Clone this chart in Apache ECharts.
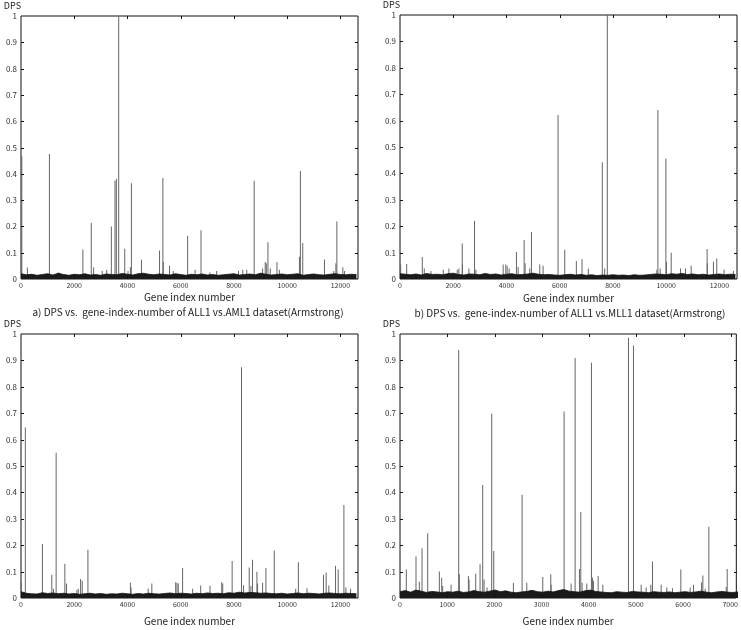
<!DOCTYPE html>
<html>
<head>
<meta charset="utf-8">
<script src="https://cdn.jsdelivr.net/npm/echarts@6/dist/echarts.min.js"></script>
<style>
html, body { margin: 0; background: #fff; }
#main { width: 741px; height: 630px; }
</style>
</head>
<body>
<div id="main"></div>
<script>
// peaks: [gene index, DPS]
var peaksA = [
  [30,0.468],[240,0.044],[1068,0.475],[1420,0.025],[2325,0.112],[2640,0.213],[2728,0.045],[3050,0.03],
  [3220,0.035],[3394,0.2],[3532,0.374],[3582,0.381],[3670,1.0],[3897,0.115],[4020,0.03],[4110,0.045],
  [4148,0.364],[4525,0.073],[5204,0.108],[5330,0.384],[5345,0.065],[5580,0.05],[5720,0.03],[6260,0.164],
  [6540,0.035],[6763,0.185],[7100,0.025],[7350,0.03],[8170,0.03],[8330,0.035],[8480,0.035],[8760,0.374],
  [9075,0.04],[9175,0.065],[9215,0.06],[9277,0.14],[9365,0.04],[9615,0.065],[9705,0.035],[10460,0.085],
  [10496,0.411],[10584,0.137],[11400,0.074],[11750,0.03],[11830,0.06],[11866,0.219],[12090,0.045],[12155,0.03]
];
var peaksB = [
  [25,0.055],[250,0.057],[838,0.083],[912,0.04],[1162,0.03],[1625,0.035],[1838,0.04],[2150,0.035],
  [2212,0.04],[2338,0.134],[2345,0.055],[2588,0.04],[2800,0.221],[2850,0.035],[3875,0.055],[3975,0.055],
  [4025,0.05],[4100,0.04],[4375,0.102],[4438,0.045],[4663,0.148],[4700,0.06],[4875,0.04],[4938,0.178],
  [5250,0.055],[5375,0.05],[5938,0.621],[6188,0.111],[6625,0.068],[6838,0.075],[7075,0.04],[7600,0.442],
  [7688,0.04],[7788,1.0],[9650,0.035],[9688,0.64],[9775,0.04],[9988,0.456],[10010,0.065],[10188,0.099],
  [10538,0.04],[10725,0.04],[10938,0.05],[11538,0.114],[11545,0.06],[11775,0.065],[11900,0.078],[12175,0.035],
  [12525,0.03]
];
var peaksC = [
  [10,0.058],[163,0.646],[805,0.205],[1157,0.088],[1220,0.035],[1320,0.55],[1647,0.13],[1710,0.055],
  [2100,0.03],[2150,0.035],[2238,0.072],[2300,0.065],[2514,0.183],[4110,0.058],[4135,0.04],[4776,0.036],
  [4915,0.055],[5810,0.06],[5860,0.058],[5908,0.055],[6071,0.114],[6448,0.035],[6750,0.047],[7100,0.046],
  [7540,0.06],[7578,0.055],[7932,0.14],[8284,0.874],[8360,0.048],[8573,0.116],[8636,0.045],[8698,0.145],
  [8862,0.099],[8887,0.055],[9076,0.058],[9200,0.114],[9515,0.18],[10320,0.035],[10420,0.135],[10745,0.037],
  [11363,0.088],[11464,0.097],[11564,0.047],[11816,0.122],[11916,0.108],[12130,0.352],[12205,0.04],[12380,0.035]
];
var peaksD = [
  [134,0.108],[339,0.157],[410,0.062],[467,0.188],[587,0.245],[834,0.1],[884,0.077],[905,0.045],
  [1082,0.05],[1244,0.939],[1258,0.09],[1450,0.083],[1464,0.07],[1605,0.092],[1697,0.128],[1753,0.428],
  [1782,0.07],[1845,0.04],[1944,0.698],[1987,0.178],[2404,0.057],[2588,0.391],[2687,0.058],[3026,0.08],
  [3196,0.09],[3203,0.05],[3478,0.706],[3627,0.055],[3712,0.909],[3804,0.11],[3832,0.326],[3860,0.058],
  [3959,0.055],[4058,0.891],[4079,0.077],[4100,0.065],[4200,0.083],[4299,0.05],[4843,0.986],[4949,0.956],
  [5112,0.05],[5218,0.04],[5317,0.05],[5352,0.138],[5536,0.05],[5656,0.04],[5776,0.037],[5953,0.108],
  [6151,0.04],[6222,0.05],[6392,0.06],[6420,0.085],[6470,0.035],[6547,0.27],[6915,0.042],[6936,0.11]
];

// low background band, one value every noiseStep genes
var noiseA = [0.02,0.016,0.018,0.014,0.017,0.02,0.015,0.022,0.017,0.014,0.018,0.016,0.02,0.015,0.017,0.014,
  0.019,0.017,0.016,0.021,0.018,0.015,0.02,0.022,0.018,0.016,0.019,0.017,0.015,0.02,0.017,0.014,
  0.018,0.016,0.019,0.015,0.017,0.014,0.016,0.018,0.02,0.015,0.017,0.019,0.016,0.022,0.018,0.015,
  0.017,0.019,0.016,0.018,0.02,0.014,0.017,0.019,0.016,0.015,0.018,0.02,0.017,0.016,0.018,0.017];
var noiseB = [0.02,0.018,0.016,0.019,0.015,0.021,0.017,0.018,0.016,0.02,0.022,0.017,0.015,0.019,0.018,0.016,
  0.021,0.017,0.019,0.015,0.018,0.02,0.016,0.017,0.019,0.022,0.018,0.016,0.017,0.015,0.014,0.016,
  0.018,0.015,0.017,0.014,0.016,0.013,0.015,0.014,0.016,0.014,0.015,0.013,0.016,0.014,0.015,0.017,
  0.019,0.018,0.016,0.02,0.018,0.021,0.017,0.019,0.016,0.018,0.015,0.017,0.019,0.016,0.018,0.017];
var noiseC = [0.024,0.018,0.016,0.015,0.02,0.017,0.019,0.016,0.018,0.015,0.017,0.014,0.016,0.018,0.015,0.017,
  0.014,0.016,0.015,0.018,0.016,0.014,0.017,0.015,0.018,0.016,0.015,0.017,0.019,0.016,0.018,0.017,
  0.015,0.018,0.016,0.019,0.017,0.018,0.016,0.02,0.018,0.022,0.019,0.021,0.02,0.018,0.019,0.017,
  0.016,0.018,0.015,0.017,0.019,0.016,0.018,0.017,0.015,0.018,0.019,0.017,0.016,0.018,0.017,0.016];
var noiseD = [0.024,0.028,0.022,0.03,0.026,0.021,0.025,0.023,0.02,0.024,0.022,0.026,0.021,0.023,0.028,0.024,
  0.022,0.026,0.03,0.024,0.027,0.022,0.02,0.023,0.025,0.029,0.024,0.022,0.026,0.023,0.028,0.032,
  0.026,0.024,0.022,0.027,0.03,0.025,0.023,0.021,0.02,0.024,0.022,0.021,0.025,0.023,0.022,0.02,
  0.024,0.022,0.021,0.023,0.02,0.022,0.024,0.021,0.023,0.026,0.022,0.02,0.023,0.025,0.022,0.021,0.023];

var xTicksWide = [0, 2000, 4000, 6000, 8000, 10000, 12000];
var xTicksD = [0, 1000, 2000, 3000, 4000, 5000, 6000, 7000];
var yTicks = [0, 0.1, 0.2, 0.3, 0.4, 0.5, 0.6, 0.7, 0.8, 0.9, 1];
var yTickLabels = ['0','0.1','0.2','0.3','0.4','0.5','0.6','0.7','0.8','0.9','1'];
var xNameText = 'Gene index number';
var yNameText = 'DPS';
var captionA = 'a) DPS vs.  gene-index-number of ALL1 vs.AML1 dataset(Armstrong)';
var captionB = 'b) DPS vs.  gene-index-number of ALL1 vs.MLL1 dataset(Armstrong)';

var FONT = '"Noto Sans CJK JP", "Noto Sans", sans-serif';

var panels = [
  {peaks: peaksA, noise: noiseA, noiseStep: 200, xMax: 12660, xInt: 2000, xTicks: xTicksWide, grid: {left: 21, top: 16, width: 337, height: 263}, nameGap: 13},
  {peaks: peaksB, noise: noiseB, noiseStep: 200, xMax: 12660, xInt: 2000, xTicks: xTicksWide, grid: {left: 400, top: 15, width: 337, height: 264}, nameGap: 14},
  {peaks: peaksC, noise: noiseC, noiseStep: 200, xMax: 12660, xInt: 2000, xTicks: xTicksWide, grid: {left: 21, top: 334, width: 337, height: 264}, nameGap: 18},
  {peaks: peaksD, noise: noiseD, noiseStep: 112, xMax: 7129, xInt: 1000, xTicks: xTicksD, grid: {left: 400, top: 334, width: 337, height: 264}, nameGap: 18}
];

var option = {
  animation: false,
  backgroundColor: '#fff',
  grid: [], xAxis: [], yAxis: [], series: [],
  graphic: [
    {type: 'text', x: 188, y: 312, style: {text: captionA, fontSize: 10, fontFamily: FONT, fill: '#222', align: 'center', verticalAlign: 'middle'}},
    {type: 'text', x: 570, y: 313, style: {text: captionB, fontSize: 10, fontFamily: FONT, fill: '#222', align: 'center', verticalAlign: 'middle'}}
  ]
};

// inward tick marks on all four sides (small rects)
var TL = 3;
function tickRect(x, y, w, h){
  return {type: 'rect', z: 100, silent: true, shape: {x: x, y: y, width: w, height: h}, style: {fill: '#111'}};
}

panels.forEach(function(p, i){
  var g = p.grid;
  var top = g.top, bottom = g.top + g.height, left = g.left, right = g.left + g.width;
  option.grid.push(Object.assign({show: true, borderColor: '#111', borderWidth: 1, backgroundColor: 'transparent'}, g));
  option.xAxis.push({
    type: 'value', gridIndex: i, min: 0, max: p.xMax, interval: p.xInt,
    name: xNameText, nameLocation: 'middle', nameGap: p.nameGap,
    nameTextStyle: {fontSize: 10, fontFamily: FONT, color: '#222'},
    axisLine: {show: false}, axisTick: {show: false},
    axisLabel: {fontSize: 7, fontFamily: FONT, color: '#333', margin: 3,
      formatter: function(v){ return String(v); }},
    splitLine: {show: false}
  });
  option.yAxis.push({
    type: 'value', gridIndex: i, min: 0, max: 1, interval: 0.1,
    name: yNameText, nameLocation: 'end', nameGap: 6,
    nameTextStyle: {fontSize: 9, fontFamily: FONT, color: '#222', align: 'right'},
    axisLine: {show: false}, axisTick: {show: false},
    axisLabel: {fontSize: 8, fontFamily: FONT, color: '#333', margin: 4,
      formatter: function(v){ return yTickLabels[Math.round(v * 10)]; }},
    splitLine: {show: false}
  });

  option.series.push({
    type: 'bar', xAxisIndex: i, yAxisIndex: i,
    data: p.peaks, barWidth: 1, itemStyle: {color: '#666'}, z: 2
  });
  option.series.push({
    type: 'line', xAxisIndex: i, yAxisIndex: i,
    data: p.noise.map(function(v, k){ return [k * p.noiseStep, v]; }),
    symbol: 'none', lineStyle: {color: '#111', width: 0.8},
    areaStyle: {color: '#1a1a1a', opacity: 1}, z: 3
  });

  p.xTicks.forEach(function(t){
    if (t === 0) return;
    var px = Math.round(left + t / p.xMax * g.width);
    option.graphic.push(tickRect(px, bottom - TL, 1, TL));
    option.graphic.push(tickRect(px, top, 1, TL));
  });
  yTicks.forEach(function(t){
    if (t === 0 || t === 1) return;
    var py = Math.round(bottom - t * g.height);
    option.graphic.push(tickRect(left, py, TL, 1));
    option.graphic.push(tickRect(right - TL, py, TL, 1));
  });
});

var chart = echarts.init(document.getElementById('main'));
chart.setOption(option);
</script>
</body>
</html>
